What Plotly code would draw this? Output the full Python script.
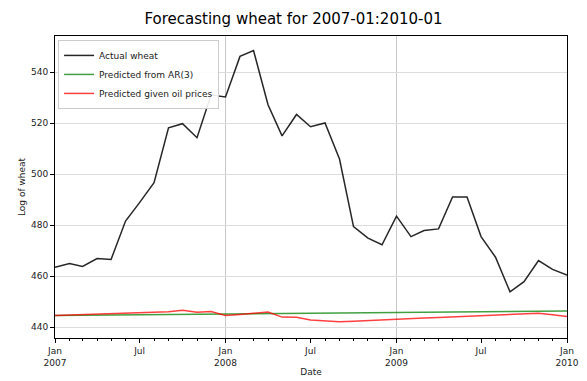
import plotly.graph_objects as go
import pandas as pd

dates = pd.date_range("2007-01-01", "2010-01-01", freq="MS")

actual_wheat = [463.5, 464.9, 463.8, 466.9, 466.5, 481.6, 488.8, 496.6, 518.2, 519.8, 514.3, 531.0,
                530.3, 546.2, 548.5, 527.2, 515.0, 523.4, 518.6, 520.1, 505.9, 479.4, 474.9, 472.3,
                483.5, 475.5, 477.9, 478.5, 491.0, 491.0, 475.5, 467.4, 453.8, 457.8, 466.1, 462.6,
                460.4]

pred_ar3 = [444.5, 444.55, 444.6, 444.65, 444.7, 444.75, 444.8, 444.85, 444.9, 444.95, 445.0, 445.05,
            445.1, 445.15, 445.2, 445.25, 445.3, 445.35, 445.4, 445.45, 445.5, 445.55, 445.6, 445.65,
            445.7, 445.75, 445.8, 445.85, 445.9, 445.95, 446.0, 446.05, 446.1, 446.15, 446.2, 446.25,
            446.3]

pred_oil = [444.5, 444.7, 444.9, 445.1, 445.3, 445.4, 445.6, 445.8, 446.0, 446.6, 445.8, 446.1,
            444.5, 444.9, 445.3, 445.9, 443.9, 443.8, 442.8, 442.5, 442.1, 442.3, 442.6, 442.8,
            443.0, 443.3, 443.5, 443.7, 443.9, 444.1, 444.3, 444.5, 444.7, 444.9, 445.4, 444.8,
            444.1]

major_ticks = ["2007-01-01", "2007-07-01", "2008-01-01", "2008-07-01", "2009-01-01", "2009-07-01", "2010-01-01"]
major_labels = ["Jan<br>2007", "Jul", "Jan<br>2008", "Jul", "Jan<br>2009", "Jul", "Jan<br>2010"]
year_grid = ["2008-01-01", "2009-01-01"]

font = "DejaVu Sans"
fig = go.Figure()
fig.add_trace(go.Scatter(x=dates, y=actual_wheat, mode="lines", name="Actual wheat",
                         line=dict(color="rgba(0,0,0,0.85)", width=1.5)))
fig.add_trace(go.Scatter(x=dates, y=pred_ar3, mode="lines", name="Predicted from AR(3)",
                         line=dict(color="rgba(0,128,0,0.75)", width=1.5)))
fig.add_trace(go.Scatter(x=dates, y=pred_oil, mode="lines", name="Predicted given oil prices",
                         line=dict(color="rgba(255,0,0,0.75)", width=1.5)))

for d in year_grid:
    fig.add_shape(type="line", xref="x", yref="paper", x0=d, x1=d, y0=0, y1=1,
                  line=dict(color="#c8c8c8", width=1), layer="below")

fig.update_layout(
    width=587, height=381,
    margin=dict(l=55, r=20, t=36, b=43),
    paper_bgcolor="white", plot_bgcolor="white",
    font=dict(family=font, size=9, color="#222222"),
    title=dict(text="Forecasting wheat for 2007-01:2010-01", x=0.5, xanchor="center",
               y=0.952, yanchor="middle", font=dict(size=15, color="black")),
    showlegend=True,
    legend=dict(x=0.006, y=0.987, xanchor="left", yanchor="top", bgcolor="rgba(255,255,255,0.9)",
                bordercolor="#cccccc", borderwidth=1, font=dict(size=9), tracegroupgap=0,
                itemwidth=30),
    xaxis=dict(range=["2007-01-01", "2010-01-01"], tickmode="array", tickvals=major_ticks,
               ticktext=major_labels, showgrid=False, ticks="outside", ticklen=4, tickcolor="black",
               showline=True, linecolor="black", linewidth=1, mirror=True, zeroline=False,
               automargin=False,
               minor=dict(tickvals=list(dates), ticks="outside", ticklen=2, tickcolor="black", showgrid=False),
               title=dict(text="Date", font=dict(size=9), standoff=2), tickfont=dict(size=9)),
    yaxis=dict(range=[435.7, 554.2], tickvals=[440, 460, 480, 500, 520, 540], showgrid=True,
               gridcolor="#dcdcdc", gridwidth=1, ticks="outside", ticklen=4, tickcolor="black",
               showline=True, linecolor="black", linewidth=1, mirror=True, zeroline=False,
               automargin=False,
               title=dict(text="Log of wheat", font=dict(size=9), standoff=3), tickfont=dict(size=9)),
)

fig.write_html("out.html")
